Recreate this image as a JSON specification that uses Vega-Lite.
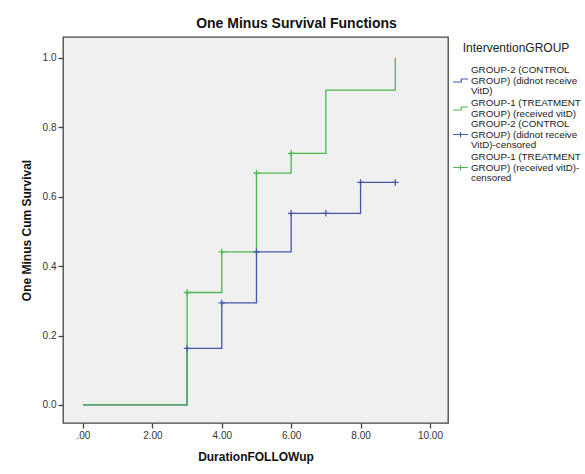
{
  "$schema": "https://vega.github.io/schema/vega-lite/v6.json",
  "width": 385,
  "height": 386,
  "autosize": {"type": "none"},
  "padding": {"left": 63, "top": 37, "right": 137, "bottom": 51},
  "background": "white",
  "title": {"text": "One Minus Survival Functions", "font": "Liberation Sans", "fontSize": 14, "fontWeight": "bold", "color": "#111111", "frame": "group", "anchor": "middle", "offset": 6, "dx": 41},
  "config": {
    "font": "Liberation Sans",
    "view": {"fill": "#f0f0f0", "stroke": "#444444", "strokeWidth": 1.3}
  },
  "datasets": {
    "curves": [
      {"group": "GROUP-2 (CONTROL GROUP) (didnot receive VitD)", "time": 0, "survival": 0},
      {"group": "GROUP-2 (CONTROL GROUP) (didnot receive VitD)", "time": 3, "survival": 0.163},
      {"group": "GROUP-2 (CONTROL GROUP) (didnot receive VitD)", "time": 4, "survival": 0.294},
      {"group": "GROUP-2 (CONTROL GROUP) (didnot receive VitD)", "time": 5, "survival": 0.441},
      {"group": "GROUP-2 (CONTROL GROUP) (didnot receive VitD)", "time": 6, "survival": 0.552},
      {"group": "GROUP-2 (CONTROL GROUP) (didnot receive VitD)", "time": 8, "survival": 0.641},
      {"group": "GROUP-2 (CONTROL GROUP) (didnot receive VitD)", "time": 9, "survival": 0.641},
      {"group": "GROUP-1 (TREATMENT GROUP) (received vitD)", "time": 0, "survival": 0},
      {"group": "GROUP-1 (TREATMENT GROUP) (received vitD)", "time": 3, "survival": 0.324},
      {"group": "GROUP-1 (TREATMENT GROUP) (received vitD)", "time": 4, "survival": 0.441},
      {"group": "GROUP-1 (TREATMENT GROUP) (received vitD)", "time": 5, "survival": 0.668},
      {"group": "GROUP-1 (TREATMENT GROUP) (received vitD)", "time": 6, "survival": 0.725},
      {"group": "GROUP-1 (TREATMENT GROUP) (received vitD)", "time": 7, "survival": 0.907},
      {"group": "GROUP-1 (TREATMENT GROUP) (received vitD)", "time": 9, "survival": 1.0}
    ],
    "censored": [
      {"group": "GROUP-2 (CONTROL GROUP) (didnot receive VitD)-censored", "time": 3, "survival": 0.163},
      {"group": "GROUP-2 (CONTROL GROUP) (didnot receive VitD)-censored", "time": 4, "survival": 0.294},
      {"group": "GROUP-2 (CONTROL GROUP) (didnot receive VitD)-censored", "time": 5, "survival": 0.441},
      {"group": "GROUP-2 (CONTROL GROUP) (didnot receive VitD)-censored", "time": 6, "survival": 0.552},
      {"group": "GROUP-2 (CONTROL GROUP) (didnot receive VitD)-censored", "time": 7, "survival": 0.552},
      {"group": "GROUP-2 (CONTROL GROUP) (didnot receive VitD)-censored", "time": 8, "survival": 0.641},
      {"group": "GROUP-2 (CONTROL GROUP) (didnot receive VitD)-censored", "time": 9, "survival": 0.641},
      {"group": "GROUP-1 (TREATMENT GROUP) (received vitD)-censored", "time": 3, "survival": 0.324},
      {"group": "GROUP-1 (TREATMENT GROUP) (received vitD)-censored", "time": 4, "survival": 0.441},
      {"group": "GROUP-1 (TREATMENT GROUP) (received vitD)-censored", "time": 5, "survival": 0.668},
      {"group": "GROUP-1 (TREATMENT GROUP) (received vitD)-censored", "time": 6, "survival": 0.725}
    ]
  },
  "layer": [
    {
      "data": {"name": "curves"},
      "transform": [{"filter": "indexof(datum.group, 'GROUP-2') == 0"}],
      "mark": {"type": "line", "interpolate": "step-after", "strokeWidth": 1.3},
      "encoding": {
        "x": {"field": "time", "type": "quantitative",
          "scale": {"domain": [-0.576, 10.52], "nice": false, "zero": false},
          "axis": {"values": [0, 2, 4, 6, 8, 10], "labelExpr": "datum.value == 0 ? '.00' : format(datum.value, '.2f')",
            "domain": false, "grid": false, "tickColor": "#444444", "tickSize": 5, "tickWidth": 1.3,
            "labelFontSize": 10, "labelColor": "#333333", "labelPadding": 2,
            "title": "DurationFOLLOWup", "titleFontSize": 12, "titleFontWeight": "bold", "titleColor": "#111111", "titlePadding": 11}},
        "y": {"field": "survival", "type": "quantitative",
          "scale": {"domain": [-0.052, 1.06], "nice": false, "zero": false},
          "axis": {"values": [0, 0.2, 0.4, 0.6, 0.8, 1.0], "format": ".1f",
            "domain": false, "grid": false, "tickColor": "#444444", "tickSize": 5, "tickWidth": 1.3,
            "labelFontSize": 10, "labelColor": "#333333", "labelPadding": 2,
            "title": "One Minus Cum Survival", "titleFontSize": 12, "titleFontWeight": "bold", "titleColor": "#111111", "titlePadding": 9}},
        "stroke": {"field": "group", "type": "nominal",
          "scale": {"domain": ["GROUP-2 (CONTROL GROUP) (didnot receive VitD)", "GROUP-1 (TREATMENT GROUP) (received vitD)"], "range": ["#4557aa", "#4db84d"]},
          "legend": {"orient": "none", "legendX": 389, "legendY": 6, "padding": 0,
            "title": "InterventionGROUP", "titleFontSize": 12, "titleFontWeight": "normal", "titleColor": "#222222", "titleAnchor": "middle", "titlePadding": 17,
            "symbolType": "M-1,0.2H0.1V-0.2H1", "symbolSize": 225, "symbolStrokeWidth": 1.2, "symbolFillColor": "transparent",
            "labelFontSize": 9.8, "labelColor": "#222222", "labelOffset": 2, "labelLimit": 250, "rowPadding": 2,
            "labelExpr": "indexof(datum.label, 'GROUP-2') == 0 ? ['GROUP-2 (CONTROL', 'GROUP) (didnot receive', 'VitD)'] : ['GROUP-1 (TREATMENT', 'GROUP) (received vitD)']",
            "encoding": {"labels": {"lineHeight": {"value": 10.5}, "dy": {"value": {"expr": "indexof(datum.label, 'GROUP-2') == 0 ? -10.5 : -5.25"}}}}}}
      }
    },
    {
      "data": {"name": "curves"},
      "transform": [{"filter": "indexof(datum.group, 'GROUP-1') == 0"}],
      "mark": {"type": "line", "interpolate": "step-after", "strokeWidth": 1.3},
      "encoding": {
        "x": {"field": "time", "type": "quantitative"},
        "y": {"field": "survival", "type": "quantitative"},
        "stroke": {"field": "group", "type": "nominal"}
      }
    },
    {
      "data": {"name": "censored"},
      "mark": {"type": "point", "shape": "M-1,0H1M0,-1V1", "size": 42, "filled": false, "strokeWidth": 1.3, "opacity": 1},
      "encoding": {
        "x": {"field": "time", "type": "quantitative"},
        "y": {"field": "survival", "type": "quantitative"},
        "color": {"field": "group", "type": "nominal",
          "scale": {"domain": ["GROUP-2 (CONTROL GROUP) (didnot receive VitD)-censored", "GROUP-1 (TREATMENT GROUP) (received vitD)-censored"], "range": ["#4557aa", "#4db84d"]},
          "legend": {"orient": "none", "legendX": 389, "legendY": 89, "padding": 0, "title": null,
            "symbolType": "M-1,0H1M0,-0.35V0.35", "symbolSize": 225, "symbolStrokeWidth": 1.2, "symbolFillColor": "transparent",
            "labelFontSize": 9.8, "labelColor": "#222222", "labelOffset": 2, "labelLimit": 250, "rowPadding": 2,
            "labelExpr": "indexof(datum.label, 'GROUP-2') == 0 ? ['GROUP-2 (CONTROL', 'GROUP) (didnot receive', 'VitD)-censored'] : ['GROUP-1 (TREATMENT', 'GROUP) (received vitD)-', 'censored']",
            "encoding": {"labels": {"lineHeight": {"value": 10.5}, "dy": {"value": -10.5}}}}}
      }
    }
  ]
}
